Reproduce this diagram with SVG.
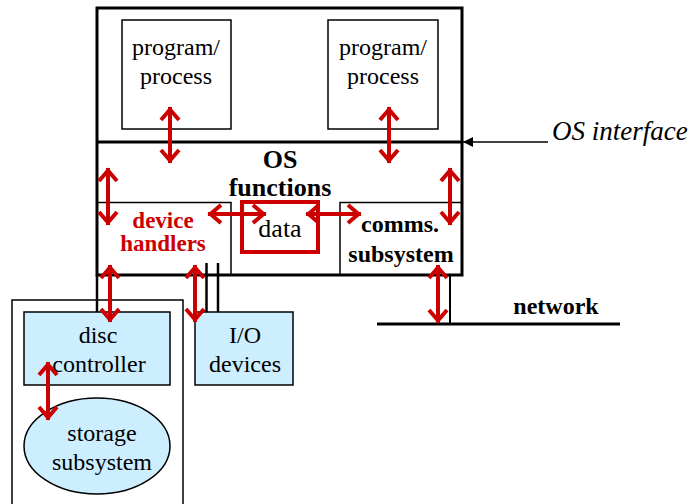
<svg xmlns="http://www.w3.org/2000/svg" width="694" height="504" viewBox="0 0 694 504">
<defs>
<style>
.ln{fill:none;stroke:#000;}
.box{fill:#fff;stroke:#000;stroke-width:1.5;}
.blue{fill:#cceeff;stroke:#000;stroke-width:1.5;}
text{font-family:"Liberation Serif","Tinos","Times New Roman","DejaVu Serif",serif;}
.t{font-size:24px;fill:#000;text-anchor:middle;}
.b{font-weight:bold;}
.red{fill:#cc0000;}
.arr{stroke:#cc0000;stroke-width:4;fill:none;marker-start:url(#ah);marker-end:url(#ah);}
</style>
<marker id="ah" viewBox="-16 -12 20 24" markerWidth="20" markerHeight="24" refX="0" refY="0" orient="auto-start-reverse" markerUnits="userSpaceOnUse">
<path d="M-13 -9 L-2.5 0 L-13 9" fill="none" stroke="#cc0000" stroke-width="4"/>
</marker>
<marker id="tri" viewBox="0 0 10 10" markerWidth="12" markerHeight="10" refX="10" refY="5" orient="auto" markerUnits="userSpaceOnUse">
<path d="M0 0 L10 5 L0 10 Z" fill="#000"/>
</marker>
</defs>
<rect width="694" height="504" fill="#fff"/>

<g id="storage-enclosure">
<path class="ln" stroke-width="1.5" d="M12 504 V300 H183 V504"/>
</g>

<g id="os-box">
<rect x="97" y="8" width="365" height="267" fill="none" stroke="#000" stroke-width="3"/>
<line x1="97" y1="142" x2="462" y2="142" stroke="#000" stroke-width="3"/>
</g>

<g id="program1">
<rect class="box" x="122" y="20" width="109" height="109"/>
<text class="t" x="176" y="55" font-family="Liberation Serif, serif">program/</text>
<text class="t" x="176" y="84" font-family="Liberation Serif, serif">process</text>
</g>
<g id="program2">
<rect class="box" x="328" y="20" width="110" height="109"/>
<text class="t" x="383" y="55">program/</text>
<text class="t" x="383" y="84">process</text>
</g>

<g id="os-functions">
<text class="t b" x="280" y="168" style="font-size:26px">OS</text>
<text class="t b" x="280" y="196" style="font-size:26px">functions</text>
</g>

<g id="device-handlers">
<path class="ln" stroke-width="1.5" d="M97 202.5 H231 V275"/>
<text class="t b red" x="163" y="228" style="font-size:23px">device</text>
<text class="t b red" x="163" y="251" style="font-size:23px">handlers</text>
</g>

<g id="data">
<rect x="242" y="202" width="76" height="50" fill="none" stroke="#cc0000" stroke-width="4"/>
<text class="t" x="280" y="237" style="font-size:26px">data</text>
</g>

<g id="comms-subsystem">
<path class="ln" stroke-width="1.5" d="M462 202.5 H340 V275"/>
<text class="t b" x="400" y="232">comms.</text>
<text class="t b" x="401" y="262">subsystem</text>
</g>

<g id="disc-controller">
<rect class="blue" x="24" y="312" width="146" height="73"/>
<text class="t" x="98" y="343">disc</text>
<text class="t" x="99" y="372">controller</text>
</g>

<g id="io-devices">
<rect class="blue" x="195" y="312" width="98" height="73"/>
<text class="t" x="245" y="343">I/O</text>
<text class="t" x="245" y="372">devices</text>
</g>

<g id="storage-subsystem">
<ellipse class="blue" cx="97" cy="446" rx="73" ry="48"/>
<text class="t" x="102" y="441">storage</text>
<text class="t" x="102" y="470">subsystem</text>
</g>

<g id="network">
<line x1="377" y1="324" x2="620" y2="324" stroke="#000" stroke-width="3"/>
<text class="t b" x="556" y="314">network</text>
</g>

<g id="os-interface">
<text x="552" y="140" style="font-size:27px;font-style:italic">OS interface</text>
</g>

<g id="connectors">
<line x1="97" y1="275" x2="97" y2="312" stroke="#000" stroke-width="2.5"/>
<line x1="206.5" y1="263" x2="206.5" y2="312" stroke="#000" stroke-width="2.5"/>
<line x1="218" y1="263" x2="218" y2="312" stroke="#000" stroke-width="2.5"/>
<line x1="450" y1="275" x2="450" y2="324" stroke="#000" stroke-width="2"/>
<line x1="548" y1="142" x2="463" y2="142" stroke="#000" stroke-width="1.5" marker-end="url(#tri)"/>
<line class="arr" x1="170" y1="107" x2="170" y2="163"/>
<line class="arr" x1="389" y1="107" x2="389" y2="163"/>
<line class="arr" x1="108" y1="168" x2="108" y2="225"/>
<line class="arr" x1="450" y1="168" x2="450" y2="225"/>
<line class="arr" x1="208" y1="214" x2="266" y2="214"/>
<line class="arr" x1="306" y1="214" x2="361" y2="214"/>
<line class="arr" x1="110" y1="265" x2="110" y2="322"/>
<line class="arr" x1="195" y1="265" x2="195" y2="322"/>
<line class="arr" x1="48" y1="362" x2="48" y2="420"/>
<line class="arr" x1="438" y1="265" x2="438" y2="323"/>
</g>
</svg>
